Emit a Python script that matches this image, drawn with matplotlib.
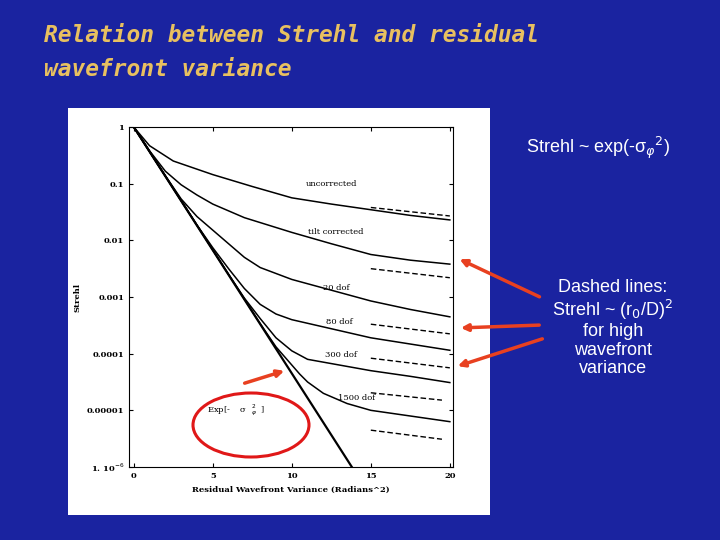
import matplotlib
matplotlib.use("Agg")
import matplotlib.pyplot as plt
import numpy as np
from matplotlib.patches import Rectangle, Ellipse, FancyArrowPatch

# log10(Strehl)
unc_x = [0, 1, 2.5, 5, 7.5, 10, 12.5, 15, 17.5, 20]
unc_y = [0, -0.33, -0.6, -0.84, -1.05, -1.25, -1.36, -1.46, -1.56, -1.64]
tilt_x = [0, 1, 2, 3, 4, 5, 7, 10, 12.5, 15, 17.5, 20]
tilt_y = [0, -0.42, -0.78, -1.02, -1.2, -1.36, -1.6, -1.86, -2.06, -2.25, -2.35, -2.42]
d20_x = [0, 2, 3, 4, 5, 6, 7, 8, 10, 12.5, 15, 17.5, 20]
d20_y = [0, -0.86, -1.27, -1.58, -1.82, -2.06, -2.3, -2.48, -2.69, -2.88, -3.07, -3.22, -3.35]
d80_x = [0, 4, 5, 6, 7, 8, 9, 10, 12.5, 15, 17.5, 20]
d80_y = [0, -1.73, -2.13, -2.5, -2.85, -3.13, -3.3, -3.4, -3.56, -3.72, -3.83, -3.94]
d300_x = [0, 6, 7, 8, 9, 10, 11, 13, 15, 17.5, 20]
d300_y = [0, -2.6, -3.02, -3.38, -3.72, -3.95, -4.1, -4.2, -4.3, -4.4, -4.51]
d1500_x = [0, 8, 9, 10, 10.5, 11, 12, 13.5, 15, 17.5, 20]
d1500_y = [0, -3.47, -3.88, -4.2, -4.36, -4.5, -4.7, -4.88, -5.0, -5.1, -5.2]
exp_x = [0, 13.8]
exp_y = [0, -6.0]
dash_x = [15, 20]
dash_sets = [[-1.42, -1.57], [-2.5, -2.66], [-3.48, -3.65], [-4.08, -4.25]]
dash_x2 = [15, 19.5]
dash_sets2 = [[-4.69, -4.82], [-5.35, -5.51]]
ytick_vals = [0, -1, -2, -3, -4, -5, -6]
ytick_labels = ["1", "0.1", "0.01", "0.001", "0.0001", "0.00001", "1. 10$^{-6}$"]
xtick_vals = [0, 5, 10, 15, 20]

W, H = 720, 540
fig = plt.figure(figsize=(7.2, 5.4), dpi=100)
fig.patch.set_facecolor("#1a23a0")
fig.patches.append(Rectangle((68/W, 1-515/H), 422/W, 407/H, transform=fig.transFigure,
                             facecolor="white", edgecolor="none", zorder=-10))

ax = fig.add_axes([129/W, 1-467/H, 324/W, 340/H])
ax.set_facecolor("white")
for xs, ys in [(unc_x, unc_y), (tilt_x, tilt_y), (d20_x, d20_y), (d80_x, d80_y),
               (d300_x, d300_y), (d1500_x, d1500_y)]:
    ax.plot(xs, 10**np.array(ys), color="black", lw=1.1)
ax.plot(exp_x, 10**np.array(exp_y), color="black", lw=1.6)
for ys in dash_sets:
    ax.plot(dash_x, 10**np.array(ys), color="black", lw=1.0, ls=(0, (4, 2)))
for ys in dash_sets2:
    ax.plot(dash_x2, 10**np.array(ys), color="black", lw=1.0, ls=(0, (4, 2)))
ax.set_yscale("log")
ax.set_ylim(1e-6, 1)
ax.set_xlim(-0.3, 20.2)
ax.set_yticks([10.0**v for v in ytick_vals])
ax.set_yticklabels(ytick_labels, family="DejaVu Serif", fontsize=6, weight="bold")
ax.minorticks_off()
ax.set_xticks(xtick_vals)
ax.set_xticklabels([str(v) for v in xtick_vals], family="DejaVu Serif", fontsize=6, weight="bold")
ax.tick_params(direction="in", top=True, right=True, length=3)
ax.set_xlabel("Residual Wavefront Variance (Radians^2)", family="DejaVu Serif", fontsize=6, fontweight="bold")
ax.set_ylabel("Strehl", family="DejaVu Serif", fontsize=6, weight="bold")
for lbl, x, y in [("uncorrected", 12.5, 10**-1.0), ("tilt corrected", 12.8, 10**-1.85),
                  ("20 dof", 12.8, 10**-2.85), ("80 dof", 13.0, 10**-3.45),
                  ("300 dof", 13.1, 10**-4.02), ("1500 dof", 14.1, 10**-4.78)]:
    ax.text(x, y, lbl, family="DejaVu Serif", fontsize=6, ha="center", va="center")
ax.text(6.5, 10**-5.0, "Exp[-    σ  $^{2}_{φ}$  ]", family="DejaVu Serif", fontsize=6, ha="center", va="center")

fig.text(44/W, 1-35/H, "Relation between Strehl and residual", color="#e8c060", fontsize=16.5,
         family="DejaVu Sans Mono", style="italic", weight="bold", va="center")
fig.text(44/W, 1-69/H, "wavefront variance", color="#e8c060", fontsize=16.5,
         family="DejaVu Sans Mono", style="italic", weight="bold", va="center")
fig.text(598/W, 1-148/H, "Strehl ~ exp(-σ$_{φ}$$^{2}$)", color="white", fontsize=13,
         family="Liberation Sans", ha="center", va="center")
fig.text(613/W, 1-328/H, "Dashed lines:\nStrehl ~ (r$_0$/D)$^2$\nfor high\nwavefront\nvariance",
         color="white", fontsize=13, family="Liberation Sans", ha="center", va="center",
         linespacing=1.1)

red = "#e84020"
for (x0, y0), (x1, y1) in [((542, 298), (457, 258)), ((542, 325), (458, 328)),
                           ((545, 338), (455, 367)), ((242, 384), (287, 370))]:
    fig.patches.append(FancyArrowPatch((x0/W, 1-y0/H), (x1/W, 1-y1/H), transform=fig.transFigure,
                                       arrowstyle="-|>", mutation_scale=10, color=red, lw=2.5))
fig.patches.append(Ellipse((251/W, 1-425/H), 116/W, 64/H, transform=fig.transFigure,
                           fill=False, edgecolor="#e01818", lw=2.2))
fig.savefig("out.png", dpi=100, facecolor=fig.get_facecolor())
